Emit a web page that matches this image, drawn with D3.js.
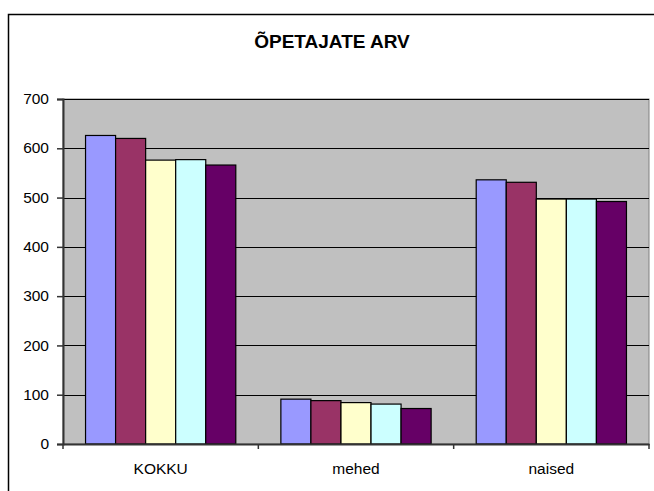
<!DOCTYPE html>
<html>
<head>
<meta charset="utf-8">
<script src="https://cdn.jsdelivr.net/npm/d3@7"></script>
<style>
  body { margin: 0; background: #fff; }
  svg { display: block; font-family: "Liberation Sans", Arial, sans-serif; }
</style>
</head>
<body>
<svg id="chart"></svg>
<script>
let categories = ['KOKKU', 'mehed', 'naised']
let seriesNames = ['s1', 's2', 's3', 's4', 's5']
let seriesValues = [
    [626, 91, 536],
    [620, 88, 531],
    [576, 84, 497],
    [577, 81, 497],
    [566, 72, 492]
]
let yTicks = [0, 100, 200, 300, 400, 500, 600, 700]
let barColors = ['#9999FF', '#993366', '#FFFFCC', '#CCFFFF', '#660066']

let width = 654
let height = 491

let plotLeft = 63
let plotRight = 649
let plotTop = 99
let plotBottom = 444

let svg = d3.select('#chart')
    .attr('width', width)
    .attr('height', height)

// outer chart frame, runs off the right and bottom edges
svg.append('rect')
   .attr('x', 8.5)
   .attr('y', 14.5)
   .attr('width', 720)
   .attr('height', 600)
   .attr('fill', '#fff')
   .attr('stroke', '#000')
   .attr('stroke-width', 1.5)

svg.append('text')
   .attr('x', 332)
   .attr('y', 48)
   .attr('text-anchor', 'middle')
   .style('font-size', '19px')
   .style('font-weight', 'bold')
   .text('ÕPETAJATE ARV')

let xScale = d3.scaleBand()
    .domain(categories)
    .range([plotLeft, plotRight])

let yScale = d3.scaleLinear()
    .domain([0, 700])
    .range([plotBottom, plotTop])

// plot area
svg.append('rect')
   .attr('x', plotLeft)
   .attr('y', plotTop)
   .attr('width', plotRight - plotLeft)
   .attr('height', plotBottom - plotTop)
   .attr('fill', '#C0C0C0')
   .attr('stroke', '#808080')
   .attr('stroke-width', 1)

// gridlines
svg.append('g')
   .selectAll('line')
   .data(yTicks.filter(t => t > 0))
   .enter()
   .append('line')
   .attr('x1', plotLeft)
   .attr('x2', plotRight)
   .attr('y1', d => Math.round(yScale(d)) + 0.5)
   .attr('y2', d => Math.round(yScale(d)) + 0.5)
   .attr('stroke', '#000')
   .attr('stroke-width', 1.2)

// bars: 5 per category with a 150% gap
let nSeries = seriesNames.length
let barW = xScale.bandwidth() / (nSeries + 1.5)

seriesValues.forEach((vals, si) => {
    svg.append('g')
       .selectAll('rect')
       .data(vals)
       .enter()
       .append('rect')
       .attr('x', (d, i) => xScale(categories[i]) + barW * 0.75 + barW * si)
       .attr('y', d => yScale(d))
       .attr('width', barW)
       .attr('height', d => yScale(0) - yScale(d))
       .attr('fill', barColors[si])
       .attr('stroke', '#000')
       .attr('stroke-width', 1.2)
})

let yAxis = d3.axisLeft(yScale)
    .tickValues(yTicks)
    .tickSize(6)
    .tickPadding(8)

let gy = svg.append('g')
   .attr('transform', 'translate(' + plotLeft + ',0)')
   .call(yAxis)
gy.select('.domain').attr('stroke', '#333').attr('stroke-width', 2)
gy.selectAll('.tick line').attr('stroke', '#333').attr('stroke-width', 1.5)
gy.selectAll('text').style('font-size', '15.5px').attr('fill', '#000').attr('dy', '0.3em')

let xAxis = d3.axisBottom(xScale)
    .tickSize(0)
    .tickPadding(19)

let gx = svg.append('g')
   .attr('transform', 'translate(0,' + plotBottom + ')')
   .call(xAxis)
gx.select('.domain').attr('stroke', '#333').attr('stroke-width', 2)
gx.selectAll('text').style('font-size', '15.5px').attr('fill', '#000')

// tick marks between categories
let bounds = categories.map(c => xScale(c)).concat([plotRight])
gx.selectAll('.sep')
  .data(bounds)
  .enter()
  .append('line')
  .attr('x1', d => d)
  .attr('x2', d => d)
  .attr('y1', 0)
  .attr('y2', 5)
  .attr('stroke', '#333')
  .attr('stroke-width', 1.5)
</script>
</body>
</html>
